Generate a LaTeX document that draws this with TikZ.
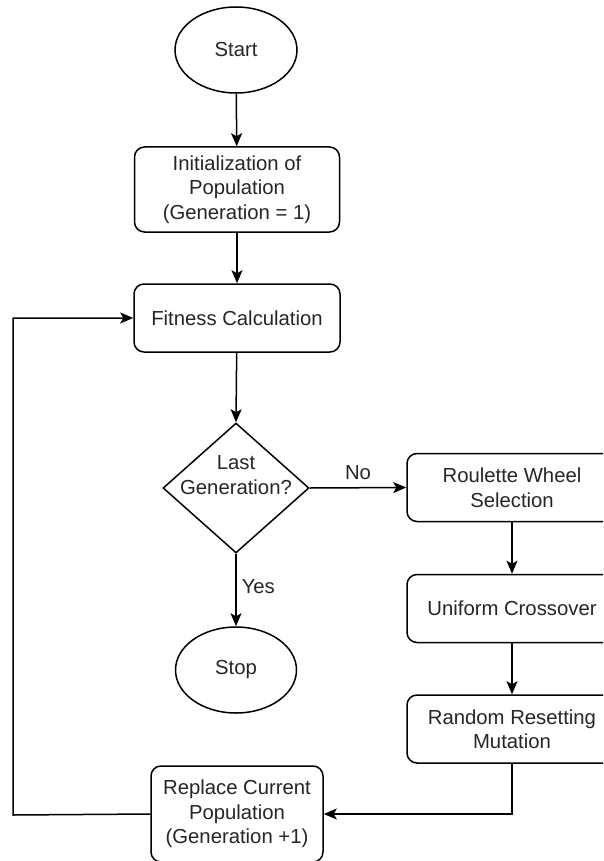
\documentclass[tikz,border=0pt]{standalone}
\usepackage{fontspec}
\setmainfont{Liberation Sans}
\usetikzlibrary{shapes.geometric,arrows.meta}
\definecolor{ink}{HTML}{262626}
\tikzset{
  every node/.style={font=\fontsize{20.3}{24.5}\selectfont, text=ink},
  procbox/.style={draw, line width=1.5pt, rounded corners=10pt, align=center, inner sep=0pt},
  terminal/.style={draw, ellipse, line width=1.5pt, inner sep=0pt},
  decision/.style={draw, diamond, line width=1.5pt, inner sep=0pt},
  flow/.style={line width=1.5pt, -{Stealth[length=13pt,width=11pt,inset=3pt]}},
  lbl/.style={inner sep=1pt}
}
\begin{document}
\begin{tikzpicture}[x=1pt,y=-1pt]
\useasboundingbox (0,0) rectangle (603,861);
\fill[white] (0,0) rectangle (603,861);
\clip (0,0) rectangle (603,861);

% main column
\node[terminal, minimum width=122pt, minimum height=86pt] (start) at (236,50) {Start};
\node[procbox, minimum width=205pt, minimum height=85pt] (init) at (237,189.5)
  {Initialization of\\Population\\(Generation = 1)};
\node[procbox, minimum width=206pt, minimum height=68pt] (fit) at (237,318) {Fitness Calculation};
\node[decision, minimum width=146pt, minimum height=130pt] (dia) at (236,488) {};
\node[align=center, inner sep=0pt] (diatext) at (236,475) {Last\\Generation?};
\node[terminal, minimum width=121pt, minimum height=86pt] (stop) at (236,670) {Stop};

% genetic operators
\node[procbox, minimum width=210pt, minimum height=68pt] (roul) at (512,487.5) {Roulette Wheel\\Selection};
\node[procbox, minimum width=210pt, minimum height=68pt] (cross) at (512,608.5) {Uniform Crossover};
\node[procbox, minimum width=210pt, minimum height=68pt] (rand) at (512,729) {Random Resetting\\Mutation};
\node[procbox, minimum width=172pt, minimum height=96pt] (repl) at (237,814)
  {Replace Current\\Population\\(Generation +1)};

\coordinate (loop) at (13,815);

% connectors
\draw[flow] (start) -- (init);
\draw[flow] (init) -- (fit);
\draw[flow] (fit) -- (dia.north);
\draw[flow] (dia.east) -- node[lbl, above, pos=0.5, yshift=6pt] {No} (roul.west);
\draw[flow] (dia.south) -- node[lbl, right, pos=0.45, xshift=4pt] {Yes} (stop);
\draw[flow] (roul) -- (cross);
\draw[flow] (cross) -- (rand);
\draw[flow] (rand.south) |- (repl.east);
\draw[flow] (repl.west) -- (loop) |- (fit.west);
\end{tikzpicture}
\end{document}
